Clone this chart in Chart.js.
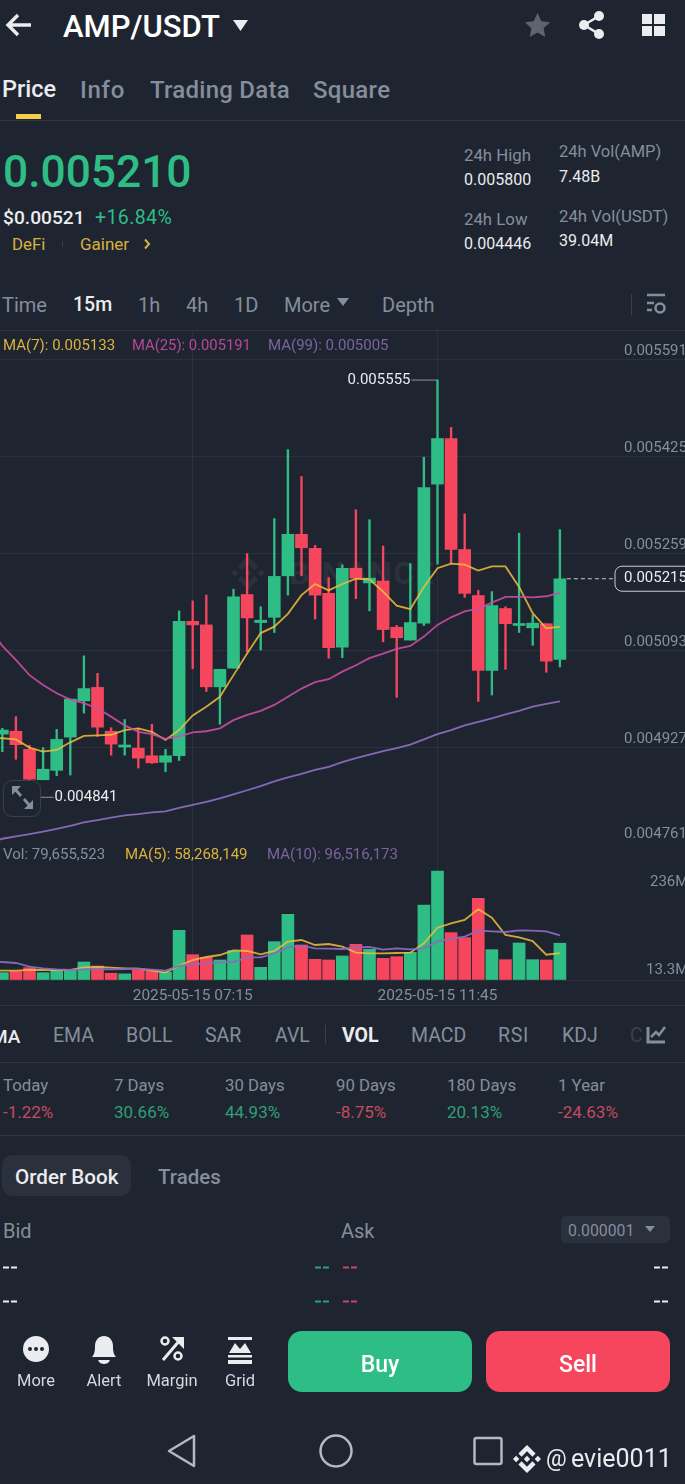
<!DOCTYPE html>
<html>
<head>
<meta charset="utf-8">
<title>AMP/USDT</title>
<script src="https://cdn.jsdelivr.net/npm/chart.js@4"></script>
<style>
	html, body { margin: 0; padding: 0; background: #1f2530; }
	#page { position: relative; width: 685px; height: 1484px; overflow: hidden; background: #1f2530; font-family: Roboto, sans-serif; color: #848e9c; }
	.t { position: absolute; white-space: nowrap; transform: translateY(calc(-50% + 1px)); line-height: 1; }
	.c { transform: translate(-50%, calc(-50% + 1px)); }
	.line { position: absolute; left: 0; width: 685px; height: 1px; background: #2f3541; }
	.box { position: absolute; }
	svg { position: absolute; overflow: visible; }
	canvas { position: absolute; left: 0; }
	.w { color: #eaecef; }
	.g { color: #2ebd85; }
	.r { color: #f6465d; }
	.y { color: #d8b13f; }
</style>
</head>
<body>
<div id="page">

	<!-- header -->
	<svg style="left:0;top:0" width="685" height="60">
		<path d="M31 25H9M18 15L8 25L18 35" fill="none" stroke="#eaecef" stroke-width="3.4"/>
		<path d="M233 20H248L240.5 31Z" fill="#eaecef"/>
		<path d="M537.5 13l3.8 8.2 8.7 1-6.4 6 1.7 8.8-7.8-4.4-7.8 4.4 1.7-8.8-6.4-6 8.7-1z" fill="#5d6470"/>
		<circle cx="584" cy="25" r="5" fill="#eaecef"/><circle cx="599" cy="16" r="5" fill="#eaecef"/><circle cx="599" cy="34" r="5" fill="#eaecef"/>
		<path d="M584 25L599 16M584 25L599 34" stroke="#eaecef" stroke-width="2.6"/>
		<rect x="642" y="14" width="10" height="10" fill="#eaecef"/><rect x="654" y="14" width="11" height="10" fill="#eaecef"/>
		<rect x="642" y="26" width="10" height="10" fill="#eaecef"/><rect x="654" y="26" width="11" height="10" fill="#eaecef"/>
	</svg>
	<span class="t" style="left:63px;top:25px;font-size:31px;font-weight:500;color:#fff">AMP/USDT</span>

	<!-- tabs -->
	<span class="t w" style="left:2px;top:89px;font-size:23.500px;font-weight:500">Price</span>
	<span class="t" style="left:80px;top:89px;font-size:24px;font-weight:500;letter-spacing:.7px">Info</span>
	<span class="t" style="left:150px;top:89px;font-size:24px;font-weight:500;letter-spacing:.25px">Trading Data</span>
	<span class="t" style="left:313px;top:89px;font-size:24px;font-weight:500;letter-spacing:.3px">Square</span>
	<div class="box" style="left:16px;top:114px;width:25px;height:5px;background:#f0cf4a"></div>
	<div class="line" style="top:120px"></div>

	<!-- price block -->
	<span class="t g" style="left:3px;top:171px;font-size:44.300px;font-weight:500">0.005210</span>
	<span class="t w" style="left:3px;top:217px;font-size:19.200px;font-weight:500">$0.00521</span>
	<span class="t g" style="left:95px;top:217px;font-size:19.500px;letter-spacing:.4px">+16.84%</span>
	<span class="t y" style="left:12px;top:243px;font-size:16.800px">DeFi</span>
	<span class="t y" style="left:80px;top:243px;font-size:17px">Gainer</span>
	<svg style="left:0;top:0" width="200" height="260"><path d="M145 239.5l4 4.5-4 4.5" fill="none" stroke="#d8b13f" stroke-width="2"/><path d="M62.500 241v6" stroke="#3a404b" stroke-width="1"/></svg>
	<span class="t" style="left:464px;top:154px;font-size:16.800px">24h High</span>
	<span class="t w" style="left:464px;top:179px;font-size:16px">0.005800</span>
	<span class="t" style="left:464px;top:218px;font-size:16.800px">24h Low</span>
	<span class="t w" style="left:464px;top:243px;font-size:16px">0.004446</span>
	<span class="t" style="left:559px;top:151px;font-size:16.500px">24h Vol(AMP)</span>
	<span class="t w" style="left:559px;top:176px;font-size:16px">7.48B</span>
	<span class="t" style="left:559px;top:215px;font-size:16.800px">24h Vol(USDT)</span>
	<span class="t w" style="left:559px;top:240px;font-size:16px">39.04M</span>

	<!-- interval row -->
	<span class="t" style="left:2px;top:304px;font-size:20px">Time</span>
	<span class="t w" style="left:73px;top:304px;font-size:19.500px;font-weight:500">15m</span>
	<span class="t" style="left:138px;top:304px;font-size:20px">1h</span>
	<span class="t" style="left:186px;top:304px;font-size:20px">4h</span>
	<span class="t" style="left:234px;top:304px;font-size:20px">1D</span>
	<span class="t" style="left:284px;top:304px;font-size:20px">More</span>
	<span class="t" style="left:382px;top:304px;font-size:20px">Depth</span>
	<svg style="left:0;top:0" width="685" height="330">
		<path d="M337 298H349L343 306Z" fill="#848e9c"/>
		<path d="M631.500 294V315" stroke="#3a404b"/>
		<path d="M647 295H665" stroke="#848e9c" stroke-width="2.500"/>
		<path d="M647 303H654M647 310H652" stroke="#848e9c" stroke-width="2.500"/>
		<circle cx="660" cy="308" r="4.500" fill="none" stroke="#848e9c" stroke-width="2.500"/>
	</svg>
	<div class="line" style="top:330px"></div>

	<!-- watermark, sits under the transparent canvas -->
	<svg style="left:231px;top:556px" width="34" height="34" viewBox="0 0 32 32" fill="#2b313b">
		<path d="M9.800 13.400L16 7.200L22.200 13.400L25.800 9.800L16 0L6.200 9.800Z"/><path d="M0 16L3.600 12.400L7.200 16L3.600 19.600Z"/><path d="M12.400 16L16 12.400L19.600 16L16 19.600Z"/><path d="M24.800 16L28.400 12.400L32 16L28.400 19.600Z"/><path d="M9.800 18.600L16 24.800L22.200 18.600L25.800 22.200L16 32L6.200 22.200Z"/>
	</svg>
	<span class="t" style="left:289px;top:572px;font-size:32px;font-weight:700;letter-spacing:1.500px;color:#2b313b">BINANCE</span>

	<canvas id="price_chart" width="685" height="513" style="top:331px;width:685px;height:513px"></canvas>
	<canvas id="vol_chart" width="685" height="161" style="top:844px;width:685px;height:161px"></canvas>

	<!-- moving average legends -->
	<span class="t" style="left:3px;top:344px;font-size:15px;color:#dcb23c">MA(7): 0.005133</span>
	<span class="t" style="left:132px;top:344px;font-size:14.800px;color:#b9479b">MA(25): 0.005191</span>
	<span class="t" style="left:268px;top:344px;font-size:15px;color:#7b639f">MA(99): 0.005005</span>
	<span class="t" style="left:3px;top:853px;font-size:15px">Vol: 79,655,523</span>
	<span class="t" style="left:125px;top:853px;font-size:15px;color:#dcb23c">MA(5): 58,268,149</span>
	<span class="t" style="left:267px;top:853px;font-size:15px;color:#7b639f">MA(10): 96,516,173</span>

	<!-- expand button -->
	<div class="box" style="left:3px;top:780px;width:36px;height:35px;border:1.500px solid #3a404b;border-radius:9px;background:#1f2530"></div>
	<svg style="left:0;top:0" width="60" height="830">
		<path d="M12 786H21L12 795Z M33 809H24L33 800Z" fill="#848e9c"/>
		<path d="M15 789L21 796M24 799L30 806" stroke="#848e9c" stroke-width="2.800"/>
	</svg>

	<!-- indicator row -->
	<div class="line" style="top:1005px"></div>
	<span class="t w" style="left:-9px;top:1035px;font-size:19px;font-weight:500">MA</span>
	<span class="t" style="left:53px;top:1035px;font-size:19.500px">EMA</span>
	<span class="t" style="left:126px;top:1035px;font-size:19.500px">BOLL</span>
	<span class="t" style="left:205px;top:1035px;font-size:19.500px">SAR</span>
	<span class="t" style="left:275px;top:1035px;font-size:19.500px">AVL</span>
	<span class="t w" style="left:342px;top:1035px;font-size:19.500px;font-weight:700">VOL</span>
	<span class="t" style="left:411px;top:1035px;font-size:19.500px">MACD</span>
	<span class="t" style="left:498px;top:1035px;font-size:19.500px;letter-spacing:.7px">RSI</span>
	<span class="t" style="left:562px;top:1035px;font-size:19.500px">KDJ</span>
	<span class="t" style="left:630px;top:1035px;font-size:19.500px;color:#3a404b">C</span>
	<svg style="left:0;top:0" width="685" height="1060">
		<path d="M325.500 1025V1044" stroke="#3a404b"/>
		<path d="M648 1027V1042H665" fill="none" stroke="#848e9c" stroke-width="3"/>
		<path d="M651 1037L656 1032L659 1035L665 1027" fill="none" stroke="#848e9c" stroke-width="2.500"/>
	</svg>
	<div class="line" style="top:1062px"></div>

	<!-- change stats -->
	<span class="t" style="left:3px;top:1084px;font-size:16.800px">Today</span>
	<span class="t" style="left:114px;top:1084px;font-size:16.800px">7 Days</span>
	<span class="t" style="left:225px;top:1084px;font-size:16.800px">30 Days</span>
	<span class="t" style="left:336px;top:1084px;font-size:16.800px">90 Days</span>
	<span class="t" style="left:447px;top:1084px;font-size:16.800px">180 Days</span>
	<span class="t" style="left:558px;top:1084px;font-size:16.800px">1 Year</span>
	<span class="t" style="left:3px;top:1111px;font-size:17px;color:#c44a5e">-1.22%</span>
	<span class="t" style="left:114px;top:1111px;font-size:17px;color:#2e9f78">30.66%</span>
	<span class="t" style="left:225px;top:1111px;font-size:17px;color:#2e9f78">44.93%</span>
	<span class="t" style="left:336px;top:1111px;font-size:17px;color:#c44a5e">-8.75%</span>
	<span class="t" style="left:447px;top:1111px;font-size:17px;color:#2e9f78">20.13%</span>
	<span class="t" style="left:558px;top:1111px;font-size:17px;color:#c44a5e">-24.63%</span>
	<div class="line" style="top:1135px"></div>

	<!-- order book -->
	<div class="box" style="left:2px;top:1155px;width:129px;height:41px;border-radius:10px;background:#2a303c"></div>
	<span class="t w" style="left:15px;top:1176px;font-size:20.600px;font-weight:500">Order Book</span>
	<span class="t" style="left:158px;top:1176px;font-size:20.500px;font-weight:500">Trades</span>
	<span class="t" style="left:3px;top:1230px;font-size:20px">Bid</span>
	<span class="t" style="left:341px;top:1230px;font-size:20px">Ask</span>
	<div class="box" style="left:561px;top:1216px;width:109px;height:27px;border-radius:5px;background:#2a303c"></div>
	<span class="t" style="left:568px;top:1230px;font-size:15.800px">0.000001</span>
	<svg style="left:0;top:0" width="685" height="1320">
		<path d="M645 1226H655L650 1232Z" fill="#848e9c"/>
		<path d="M3 1267.500H17M654 1267.500H668M3 1301.500H17M654 1301.500H668" stroke="#eaecef" stroke-width="1.800" stroke-dasharray="6 2"/>
		<path d="M315 1267.500H329M315 1301.500H329" stroke="#2e9f78" stroke-width="1.800" stroke-dasharray="6 2"/>
		<path d="M343 1267.500H357M343 1301.500H357" stroke="#c44a5e" stroke-width="1.800" stroke-dasharray="6 2"/>
	</svg>

	<!-- bottom bar -->
	<svg style="left:0;top:0" width="685" height="1484">
		<circle cx="36" cy="1349" r="13" fill="#eaecef"/>
		<circle cx="30" cy="1349" r="2" fill="#1f2530"/><circle cx="36" cy="1349" r="2" fill="#1f2530"/><circle cx="42" cy="1349" r="2" fill="#1f2530"/>
		<path d="M92 1357c3-3 3-8 3-11c0-6 4-10 9-10s9 4 9 10c0 3 0 8 3 11Z" fill="#eaecef"/>
		<path d="M98 1360H110C109 1363 106 1364 104 1364S99 1363 98 1360Z" fill="#eaecef"/>
		<path d="M163 1360L180 1340" stroke="#eaecef" stroke-width="3"/>
		<path d="M172 1337H184V1349Z" fill="#eaecef"/>
		<circle cx="165" cy="1341" r="3.500" fill="none" stroke="#eaecef" stroke-width="2.500"/>
		<circle cx="178" cy="1356" r="3.500" fill="none" stroke="#eaecef" stroke-width="2.500"/>
		<rect x="228" y="1337" width="24" height="3" fill="#eaecef"/>
		<path d="M229 1353L235 1343L240 1349L245 1343L251 1353Z" fill="#eaecef"/>
		<rect x="228" y="1355" width="24" height="2.500" fill="#eaecef"/>
		<rect x="228" y="1360" width="24" height="4" fill="#eaecef"/>
	</svg>
	<span class="t c" style="left:36px;top:1380px;font-size:16.500px;color:#d5d8dc">More</span>
	<span class="t c" style="left:104px;top:1380px;font-size:16.500px;color:#d5d8dc">Alert</span>
	<span class="t c" style="left:172px;top:1380px;font-size:16.500px;color:#d5d8dc">Margin</span>
	<span class="t c" style="left:240px;top:1380px;font-size:16.500px;color:#d5d8dc">Grid</span>
	<div class="box" style="left:288px;top:1331px;width:184px;height:61px;border-radius:14px;background:#2ebd85"></div>
	<div class="box" style="left:486px;top:1331px;width:184px;height:61px;border-radius:14px;background:#f6465d"></div>
	<span class="t c" style="left:380px;top:1363px;font-size:23px;font-weight:500;color:#fff">Buy</span>
	<span class="t c" style="left:578px;top:1363px;font-size:23px;font-weight:500;color:#fff">Sell</span>

	<!-- android nav and tag -->
	<svg style="left:0;top:0" width="685" height="1484">
		<path d="M194 1436V1466L169 1451Z" fill="none" stroke="#b5b8bc" stroke-width="2.500" stroke-linejoin="round"/>
		<circle cx="336" cy="1451" r="15.500" fill="none" stroke="#b5b8bc" stroke-width="2.500"/>
		<rect x="474.500" y="1438" width="27" height="26" rx="2" fill="none" stroke="#b5b8bc" stroke-width="2.500"/>
	</svg>
	<svg style="left:513px;top:1445px" width="28" height="28" viewBox="0 0 32 32" fill="#eaecef">
		<path d="M9.800 13.400L16 7.200L22.200 13.400L25.800 9.800L16 0L6.200 9.800Z"/><path d="M0 16L3.600 12.400L7.200 16L3.600 19.600Z"/><path d="M12.400 16L16 12.400L19.600 16L16 19.600Z"/><path d="M24.800 16L28.400 12.400L32 16L28.400 19.600Z"/><path d="M9.800 18.600L16 24.800L22.200 18.600L25.800 22.200L16 32L6.200 22.200Z"/>
	</svg>
	<span class="t w" style="left:546px;top:1457px;font-size:23px">@</span>
	<span class="t w" style="left:571px;top:1457px;font-size:25px">evie0011</span>
</div>

<script>
// candles, oldest first
const opens = [0.004949,0.004954,0.004923,0.004871,0.004887,0.004944,0.005006,0.005029,0.004954,0.004927,0.004925,0.004912,0.004901,0.004912,0.005142,0.005136,0.005030,0.005062,0.005188,0.005140,0.005149,0.005220,0.005291,0.005267,0.005190,0.005098,0.005233,0.005208,0.005211,0.005132,0.005110,0.005139,0.005377,0.005455,0.005265,0.005186,0.005058,0.005164,0.005135,0.005131,0.005138,0.005077];
const closes = [0.004956,0.004931,0.004872,0.004889,0.004940,0.005009,0.005027,0.004961,0.004932,0.004928,0.004908,0.004900,0.004912,0.005142,0.005136,0.005030,0.005060,0.005184,0.005148,0.005144,0.005219,0.005291,0.005268,0.005187,0.005097,0.005233,0.005216,0.005216,0.005128,0.005114,0.005140,0.005371,0.005455,0.005265,0.005190,0.005058,0.005169,0.005138,0.005136,0.005139,0.005074,0.005215];
const highs = [0.004959,0.004979,0.004930,0.004926,0.004957,0.005009,0.005083,0.005053,0.004960,0.004974,0.004959,0.004966,0.004923,0.005160,0.005177,0.005187,0.005060,0.005197,0.005258,0.005167,0.005318,0.005436,0.005390,0.005272,0.005217,0.005239,0.005333,0.005316,0.005271,0.005135,0.005241,0.005423,0.005555,0.005474,0.005326,0.005195,0.005193,0.005167,0.005293,0.005153,0.005138,0.005299];
const lows = [0.004919,0.004906,0.004841,0.004871,0.004878,0.004879,0.004985,0.004945,0.004913,0.004913,0.004891,0.004899,0.004885,0.004904,0.005061,0.005022,0.004966,0.005062,0.005090,0.005093,0.005123,0.005187,0.005220,0.005146,0.005079,0.005080,0.005181,0.005160,0.005107,0.005012,0.005110,0.005135,0.005240,0.005241,0.005183,0.005005,0.005016,0.005060,0.005123,0.005101,0.005055,0.005064];
const volumes = [15900000,18800000,26700000,15900000,20900000,21700000,39000000,30300000,14600000,13300000,21700000,20200000,17300000,107500000,54800000,49100000,43300000,63500000,97400000,27400000,83000000,142200000,75800000,44700000,43300000,52000000,77200000,66400000,46900000,50500000,59900000,162400000,236000000,102500000,91700000,176800000,65700000,44000000,80100000,44000000,43300000,79655523];

// moving averages, each starts one candle before the first visible one
const ma7 = [0.004944,0.004942,0.004940,0.004926,0.004919,0.004922,0.004935,0.004946,0.004947,0.004948,0.004956,0.004959,0.004953,0.004939,0.004956,0.004981,0.004996,0.005013,0.005050,0.005087,0.005122,0.005133,0.005155,0.005187,0.005206,0.005195,0.005206,0.005215,0.005214,0.005193,0.005169,0.005163,0.005201,0.005233,0.005241,0.005239,0.005229,0.005236,0.005236,0.005201,0.005156,0.005130,0.005133];
const ma25 = [0.005133,0.005100,0.005076,0.005050,0.005033,0.005019,0.005008,0.005002,0.004993,0.004979,0.004964,0.004953,0.004949,0.004941,0.004945,0.004952,0.004954,0.004959,0.004973,0.004982,0.004989,0.004999,0.005013,0.005027,0.005038,0.005043,0.005056,0.005067,0.005079,0.005087,0.005095,0.005100,0.005116,0.005136,0.005149,0.005159,0.005164,0.005174,0.005184,0.005184,0.005183,0.005185,0.005191];
const ma99 = [0.004762,0.004770,0.004774,0.004778,0.004782,0.004787,0.004792,0.004798,0.004802,0.004806,0.004810,0.004812,0.004815,0.004817,0.004823,0.004828,0.004833,0.004839,0.004846,0.004853,0.004860,0.004868,0.004875,0.004881,0.004888,0.004893,0.004901,0.004908,0.004914,0.004920,0.004925,0.004931,0.004940,0.004949,0.004956,0.004964,0.004970,0.004976,0.004983,0.004989,0.004996,0.005001,0.005005];
const vol_ma5 = [20200000,20200000,20200000,21700000,21700000,21700000,21700000,27400000,28100000,26700000,25300000,24500000,20200000,15900000,31000000,43300000,49800000,54100000,64200000,62800000,55600000,62800000,83000000,86600000,75800000,77900000,72200000,59200000,57700000,57700000,58500000,59200000,79400000,113300000,122700000,129900000,153700000,135000000,97400000,92400000,84400000,54800000,58268149];
const vol_ma10 = [40400000,39000000,36800000,28900000,25300000,23100000,21700000,23100000,23800000,23100000,23800000,24500000,22400000,20200000,30300000,34600000,35400000,38200000,39000000,49100000,49100000,57700000,70700000,74300000,68600000,67800000,67100000,70700000,71400000,65700000,68600000,66400000,68600000,83000000,89500000,93800000,106800000,105400000,103900000,107500000,106800000,105400000,96516173];

// axes
const price_ticks = [0.005591,0.005425,0.005259,0.005093,0.004927,0.004761];
const price_top = 0.005639;
const last_price = 0.005215;
const vol_axis_values = [236000000,13300000];
const vol_axis_labels = ['236M','13.3M'];
const vol_top = 294400000;
const time_positions = [14,32];
const time_labels = ['2025-05-15 07:15','2025-05-15 11:45'];
const x_min = -0.17;
const x_max = 50.2;

const GREEN = '#2ebd85';
const RED = '#f6465d';
const GRID = '#2b313c';
const AXIS_TEXT = '#848e9c';
const FONT = '15px Roboto';

function candle_color(ctx){
	let i = ctx.dataIndex;
	return closes[i] >= opens[i] ? GREEN : RED;
}
function line_ds(values, color, order){
	return {
		type: 'line',
		data: values.map((v, i) => ({ x: i-1, y: v })),
		borderColor: color,
		borderWidth: 1.8,
		pointRadius: 0,
		order: order,
	}
}
function base_options(y_min, y_max, y_ticks, x_height){
	return {
		animation: false,
		responsive: false,
		layout: { padding: 0 },
		plugins: { legend: { display: false }, tooltip: { enabled: false } },
		scales: {
			x: {
				type: 'linear',
				min: x_min,
				max: x_max,
				offset: false,
				afterBuildTicks: (s) => { s.ticks = time_positions.map((v) => ({ value: v })) },
				afterFit: (s) => { s.height = x_height },
				grid: { color: GRID, drawTicks: false, offset: false },
				border: { display: false },
				ticks: {
					display: x_height > 0,
					autoSkip: false,
					maxRotation: 0,
					padding: 7,
					color: AXIS_TEXT,
					font: { family: 'Roboto', size: 15.4 },
					callback: (v) => time_labels[time_positions.indexOf(v)],
				},
			},
			y: {
				min: y_min,
				max: y_max,
				afterBuildTicks: (s) => { s.ticks = y_ticks.map((v) => ({ value: v })) },
				afterFit: (s) => { s.width = 0 },
				grid: { color: GRID, drawTicks: false },
				border: { display: false },
				ticks: { display: false },
			}
		}
	}
}

// right side price labels and the high, low and last price markers
const price_marks = {
	id: 'price_marks',
	afterDatasetsDraw: function(chart){
		let c = chart.ctx, sx = chart.scales.x, sy = chart.scales.y;
		c.save();
		c.font = FONT;
		c.textBaseline = 'middle';
		c.textAlign = 'left';
		c.fillStyle = AXIS_TEXT;
		price_ticks.forEach((p, n) => {
			let off = n == price_ticks.length-1 ? 10 : 7.5;
			c.fillText(p.toFixed(6), 624, sy.getPixelForValue(p)-off);
		})

		let hi = highs.indexOf(Math.max(...highs));
		let hx = sx.getPixelForValue(hi), hy = sy.getPixelForValue(highs[hi]);
		c.strokeStyle = '#8f959e';
		c.lineWidth = 1;
		c.beginPath(); c.moveTo(hx-26, hy); c.lineTo(hx, hy); c.stroke();
		c.fillStyle = '#eaecef';
		c.textAlign = 'right';
		c.fillText(highs[hi].toFixed(6), hx-27, hy);

		let lo = lows.indexOf(Math.min(...lows));
		let lx = sx.getPixelForValue(lo), ly = sy.getPixelForValue(lows[lo]);
		c.beginPath(); c.moveTo(lx, ly); c.lineTo(lx+24, ly); c.stroke();
		c.textAlign = 'left';
		c.fillText(lows[lo].toFixed(6), lx+25, ly);

		let ex = sx.getPixelForValue(closes.length-1)+7, ey = sy.getPixelForValue(last_price);
		c.strokeStyle = '#c8ccd1';
		c.setLineDash([4, 3]);
		c.beginPath(); c.moveTo(ex, ey); c.lineTo(615, ey); c.stroke();
		c.setLineDash([]);
		c.fillStyle = '#1f2530';
		c.beginPath(); c.roundRect(615, ey-12.5, 80, 25, 7); c.fill(); c.stroke();
		c.fillStyle = '#eaecef';
		c.fillText(last_price.toFixed(6), 624, ey);
		c.restore();
	}
}
const vol_marks = {
	id: 'vol_marks',
	afterDatasetsDraw: function(chart){
		let c = chart.ctx, sy = chart.scales.y;
		c.save();
		c.font = FONT;
		c.textBaseline = 'middle';
		c.textAlign = 'left';
		c.fillStyle = AXIS_TEXT;
		c.fillText(vol_axis_labels[0], 650, sy.getPixelForValue(vol_axis_values[0])+11.5);
		c.fillText(vol_axis_labels[1], 646, sy.getPixelForValue(vol_axis_values[1])-4);
		c.restore();
	}
}

window.onload = () => {
	new Chart('price_chart', {
		type: 'bar',
		data: {
			datasets: [
				line_ds(ma99, 'rgba(140,106,190,0.95)', 0),
				line_ds(ma25, 'rgba(203,76,165,0.9)', 0),
				line_ds(ma7, 'rgba(240,190,60,0.85)', 0),
				{
					data: opens.map((o, i) => ({ x: i, y: [o, closes[i]] })),
					backgroundColor: candle_color,
					barThickness: 12,
					minBarLength: 2,
					grouped: false,
					order: 1,
				},
				{
					data: lows.map((l, i) => ({ x: i, y: [l, highs[i]] })),
					backgroundColor: candle_color,
					barThickness: 1.7,
					grouped: false,
					order: 2,
				},
			]
		},
		options: base_options(price_ticks[price_ticks.length-1], price_top, price_ticks, 0),
		plugins: [price_marks],
	})
	new Chart('vol_chart', {
		type: 'bar',
		data: {
			datasets: [
				line_ds(vol_ma10, 'rgba(140,106,190,0.95)', 0),
				line_ds(vol_ma5, 'rgba(240,190,60,0.85)', 0),
				{
					data: volumes.map((v, i) => ({ x: i, y: v })),
					backgroundColor: candle_color,
					barThickness: 12,
					grouped: false,
					order: 1,
				},
			]
		},
		options: base_options(0, vol_top, [0], 25),
		plugins: [vol_marks],
	})
}
</script>
</body>
</html>
